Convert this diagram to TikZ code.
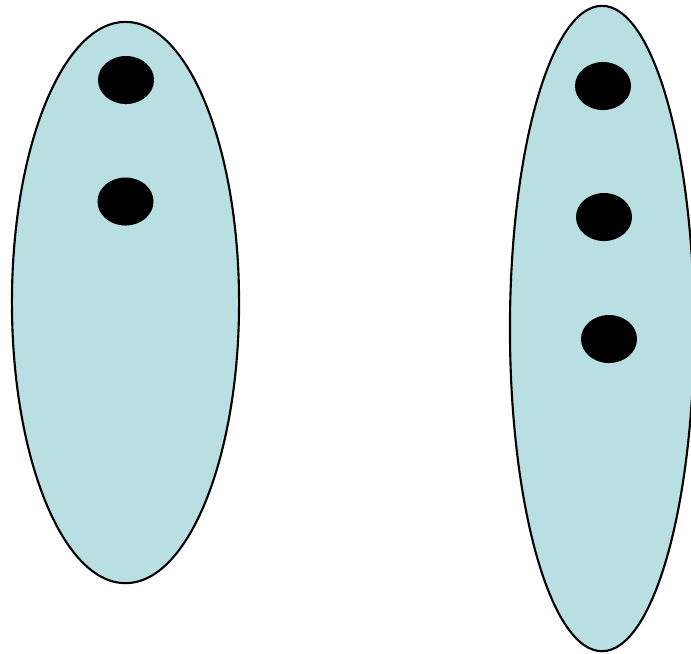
\documentclass[tikz,border=0pt]{standalone}
\usepackage{tikz}
\usetikzlibrary{shapes.geometric}
\usepackage{xcolor}
\definecolor{setblue}{RGB}{186,223,227}

\begin{document}
\begin{tikzpicture}[x=0.01cm, y=-0.01cm,
  blob/.style={ellipse, draw=black, line width=0.6pt, fill=setblue, inner sep=0pt},
  dot/.style={ellipse, fill=black, inner sep=0pt, minimum width=0.56cm, minimum height=0.48cm}]
  \useasboundingbox (0,0) rectangle (691,653);
  % the two sets
  \node[blob, minimum width=2.27cm, minimum height=5.61cm] (left) at (125.5,302.5) {};
  \node[blob, minimum width=1.84cm, minimum height=6.45cm] (right) at (602,328.5) {};
  % elements
  \node[dot] (l1) at (126,80) {}; \node[dot] (l2) at (125.5,201.5) {};
  \node[dot] (r1) at (603,86) {}; \node[dot] (r2) at (604,217) {};
  \node[dot] (r3) at (609,339) {};
\end{tikzpicture}
\end{document}
